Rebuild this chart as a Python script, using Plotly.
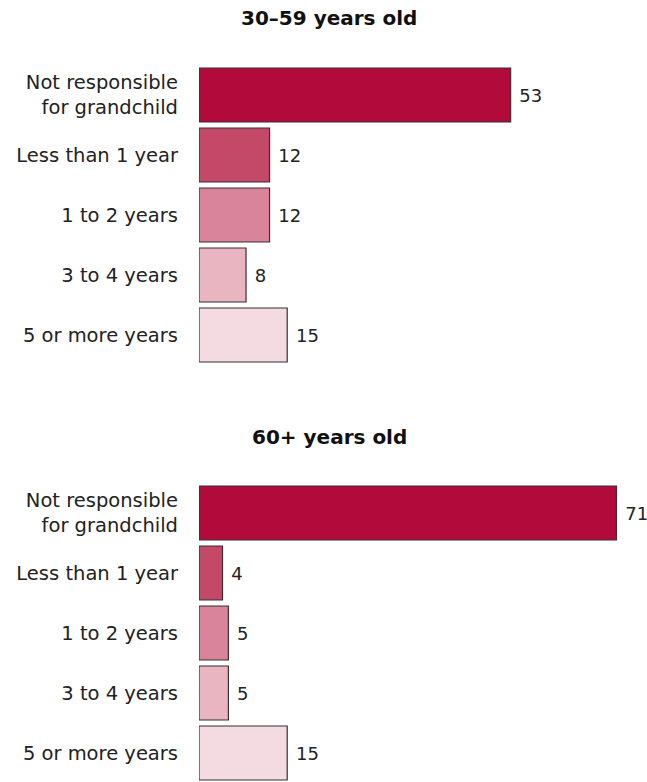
import plotly.graph_objects as go
from plotly.subplots import make_subplots

categories = ["Not responsible<br>for grandchild", "Less than 1 year", "1 to 2 years", "3 to 4 years", "5 or more years"]
values_30_59 = [53, 12, 12, 8, 15]
values_60_plus = [71, 4, 5, 5, 15]
panel_titles = ["30–59 years old", "60+ years old"]
bar_colors = ["#B20A3A", "#C44868", "#D9849A", "#E8B5C1", "#F4DBE2"]

W, H = 647, 782
FONT = "DejaVu Sans"
px_per_unit = 5.88
x_left = 199

fig = make_subplots(rows=2, cols=1)

for i, vals in enumerate([values_30_59, values_60_plus]):
    fig.add_trace(go.Bar(
        y=categories, x=vals, orientation="h",
        marker=dict(color=bar_colors, line=dict(color="#333333", width=1.2)),
        text=[" " + str(v) for v in vals],
        textposition="outside",
        textfont=dict(family=FONT, size=18, color="#222222"),
        cliponaxis=False,
        showlegend=False,
        hoverinfo="skip",
    ), row=i + 1, col=1)

xmax = (W - x_left) / px_per_unit
xdom = [x_left / W, 1.0]
common_x = dict(range=[0, xmax], domain=xdom, showgrid=False, zeroline=False,
                showticklabels=False, showline=False, ticks="")
fig.update_layout(xaxis=common_x, xaxis2=common_x)

ycommon = dict(type="category", categoryorder="array", categoryarray=categories,
               showgrid=False, zeroline=False, showline=False, ticks="",
               ticklabelstandoff=20,
               tickfont=dict(family=FONT, size=19.5, color="#222222"))
fig.update_layout(
    yaxis=dict(ycommon, domain=[1 - 365 / H, 1 - 65 / H], range=[4.5, -0.5]),
    yaxis2=dict(ycommon, domain=[0, 1 - 483 / H], range=[4.5 - 1 / 60, -0.5]),
)

for title, ypix in zip(panel_titles, [18, 437]):
    fig.add_annotation(text="<b>" + title + "</b>", xref="paper", yref="paper",
                       x=329 / W, y=1 - ypix / H, showarrow=False,
                       xanchor="center", yanchor="middle",
                       font=dict(family=FONT, size=20, color="#111111"))

fig.update_layout(
    width=W, height=H, bargap=0.1,
    margin=dict(l=0, r=0, t=0, b=0),
    paper_bgcolor="white", plot_bgcolor="white",
)

fig.write_html("out.html")
